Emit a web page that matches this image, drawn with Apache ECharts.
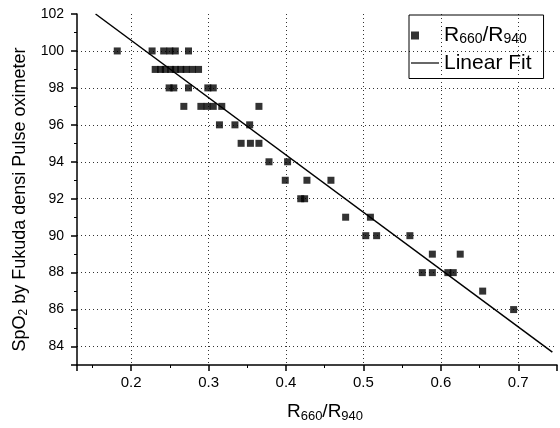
<!DOCTYPE html>
<html><head><meta charset="utf-8">
<script src="https://cdn.jsdelivr.net/npm/echarts@6/dist/echarts.min.js"></script>
<style>html,body{margin:0;padding:0;background:#fff}#c{width:560px;height:428px}</style>
</head><body><div id="c"></div>
<script>
// Measured ratio R660/R940 and SpO2 readings
const ratio = [0.182,0.227,0.242,0.250,0.257,0.274,
  0.231,0.238,0.244,0.251,0.257,0.264,0.271,0.279,0.287,
  0.249,0.255,0.274,0.299,0.306,
  0.268,0.290,0.298,0.306,0.317,0.365,
  0.314,0.334,0.353,
  0.342,0.354,0.365,
  0.378,0.402,
  0.399,0.427,0.458,
  0.419,0.424,
  0.477,0.509,
  0.503,0.517,0.560,
  0.589,0.625,
  0.576,0.589,0.609,0.616,
  0.654,
  0.694];
const spo2 = [100,100,100,100,100,100,
  99,99,99,99,99,99,99,99,99,
  98,98,98,98,98,
  97,97,97,97,97,97,
  96,96,96,
  95,95,95,
  94,94,
  93,93,93,
  92,92,
  91,91,
  90,90,90,
  89,89,
  88,88,88,88,
  87,
  86];
// Linear fit line end points
const fitX = [0.154, 0.744];
const fitY = [102.0, 83.7];
const seriesNames = ['R660/R940', 'Linear Fit'];

const FONT = '"Liberation Sans", Arial, sans-serif';
const scatterData = ratio.map((x, i) => [x, spo2[i]]);
const fitData = fitX.map((x, i) => [x, fitY[i]]);

const chart = echarts.init(document.getElementById('c'), null, {renderer: 'canvas'});
chart.setOption({
  animation: false,
  backgroundColor: '#fff',
  grid: {left: 77, right: 3, top: 14, bottom: 63, containLabel: false},
  legend: {
    orient: 'vertical', left: 409, top: 15,
    borderColor: '#000', borderWidth: 1, borderRadius: 0,
    padding: [10, 12, 5, 2], itemGap: 6, itemWidth: 28, itemHeight: 8,
    textStyle: {fontFamily: FONT, fontSize: 21, color: '#000',
      rich: {sub: {fontFamily: FONT, fontSize: 14, color: '#000', verticalAlign: 'bottom', padding: [8, 0, 0, 0]}}},
    formatter: function (n) { return n === seriesNames[0] ? 'R{sub|660}/R{sub|940}' : n; },
    data: [
      {name: seriesNames[0], icon: 'path://M0,0h8v8h-8z M27.95,3.95h0.05v0.05h-0.05z'},
      {name: seriesNames[1], icon: 'path://M0,0h28v1.2h-28z'}
    ]
  },
  xAxis: {
    type: 'value', min: 0.13, max: 0.75, splitNumber: 6,
    name: 'R{sub|660}/R{sub|940}', nameLocation: 'middle', nameGap: 36,
    nameTextStyle: {fontFamily: FONT, fontSize: 19, color: '#000', padding: [0, 0, 0, 16],
      rich: {sub: {fontFamily: FONT, fontSize: 13, color: '#000', padding: [9, 0, 0, 0]}}},
    axisLine: {show: true, onZero: false, lineStyle: {color: '#000', width: 1.5}},
    axisTick: {show: true, inside: false, length: 6, lineStyle: {color: '#000', width: 1.5}},
    minorTick: {show: true, splitNumber: 2, length: 3, lineStyle: {color: '#000', width: 1}},
    axisLabel: {fontFamily: FONT, fontSize: 15, color: '#000', margin: 10, showMinLabel: false, showMaxLabel: false},
    splitLine: {show: true, showMinLine: false, showMaxLine: false, lineStyle: {color: '#333333', type: [1, 3], width: 1, opacity: 1}}
  },
  yAxis: {
    type: 'value', min: 83, max: 102, splitNumber: 10,
    name: 'SpO{sub|2} by Fukuda densi Pulse oximeter', nameLocation: 'middle', nameGap: 42,
    nameTextStyle: {fontFamily: FONT, fontSize: 18, color: '#000', padding: [0, 20, 0, 0],
      rich: {sub: {fontFamily: FONT, fontSize: 12, color: '#000', padding: [8, 0, 0, 0]}}},
    axisLine: {show: true, onZero: false, lineStyle: {color: '#000', width: 1.5}},
    axisTick: {show: true, inside: false, length: 6, lineStyle: {color: '#000', width: 1.5}},
    minorTick: {show: true, splitNumber: 2, length: 3, lineStyle: {color: '#000', width: 1}},
    axisLabel: {fontFamily: FONT, fontSize: 14, color: '#000', margin: 13, showMinLabel: false},
    splitLine: {show: true, showMinLine: false, showMaxLine: false, lineStyle: {color: '#333333', type: [1, 3], width: 1, opacity: 1}}
  },
  series: [
    {name: seriesNames[0], type: 'scatter', symbol: 'rect', symbolSize: 7,
      itemStyle: {color: '#000'}, data: scatterData, z: 3},
    {name: seriesNames[1], type: 'line', symbol: 'none', showSymbol: false,
      lineStyle: {color: '#000', width: 1.5}, itemStyle: {color: '#000'}, data: fitData, z: 2}
  ]
});
</script></body></html>
